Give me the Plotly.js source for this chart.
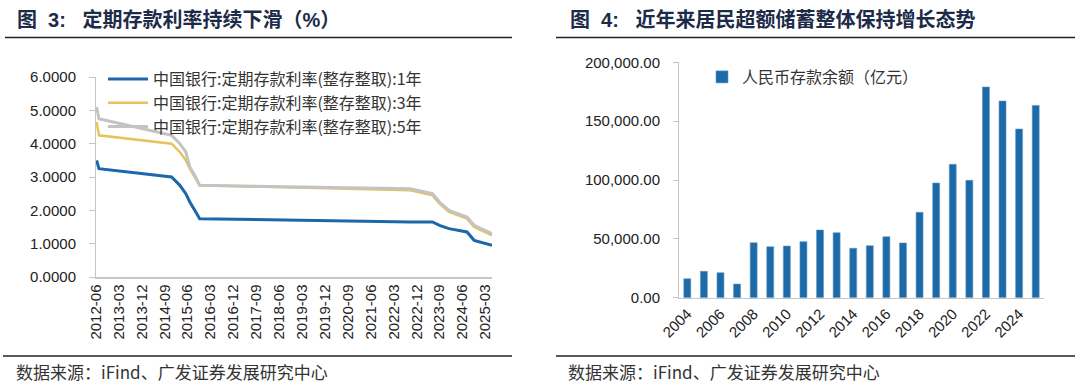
<!DOCTYPE html>
<html><head><meta charset="utf-8">
<script src="https://cdn.plot.ly/plotly-3.0.1.min.js"></script>
<style>html,body{margin:0;padding:0;background:#fff}#chart{width:1080px;height:391px}</style>
</head><body><div id="chart"></div>
<script>
// ---- Left chart data: Bank of China time deposit rates (%) ----
const rateDates = ['2012-06-08','2012-07-06','2014-11-22','2015-03-01','2015-05-11','2015-06-28','2015-08-26','2015-10-24','2022-09-15','2023-06-08','2023-09-01','2023-12-22','2024-07-25','2024-10-18','2025-05-20'];
const rate1Y = [3.50,3.25,3.00,2.75,2.50,2.25,2.00,1.75,1.65,1.65,1.55,1.45,1.35,1.10,0.95];
const rate3Y = [4.65,4.25,4.00,3.75,3.50,3.25,3.00,2.75,2.60,2.45,2.20,1.95,1.75,1.50,1.25];
const rate5Y = [5.10,4.75,4.25,4.00,3.75,3.30,3.05,2.75,2.65,2.50,2.25,2.00,1.80,1.55,1.30];
const seriesNames = ['中国银行:定期存款利率(整存整取):1年','中国银行:定期存款利率(整存整取):3年','中国银行:定期存款利率(整存整取):5年'];
const leftTickVals = ['2012-06-01','2013-03-01','2013-12-01','2014-09-01','2015-06-01','2016-03-01','2016-12-01','2017-09-01','2018-06-01','2019-03-01','2019-12-01','2020-09-01','2021-06-01','2022-03-01','2022-12-01','2023-09-01','2024-06-01','2025-03-01'];
const leftTickText = ['2012-06','2013-03','2013-12','2014-09','2015-06','2016-03','2016-12','2017-09','2018-06','2019-03','2019-12','2020-09','2021-06','2022-03','2022-12','2023-09','2024-06','2025-03'];

// ---- Right chart data: household excess savings (RMB deposits, 100 million yuan) ----
const years = [2004,2005,2006,2007,2008,2009,2010,2011,2012,2013,2014,2015,2016,2017,2018,2019,2020,2021,2022,2023,2024,2025];
const deposits = [16100,22400,21200,11600,46700,43300,43900,47600,57500,55200,42000,44200,51800,46500,72500,97400,113300,99700,179000,167100,143300,163400];
const barName = '人民币存款余额（亿元）';
const rightTickVals = [2004,2006,2008,2010,2012,2014,2016,2018,2020,2022,2024];
const rightTickText = ['2004','2006','2008','2010','2012','2014','2016','2018','2020','2022','2024'];

const NB = '\u00a0';
const titleLeft = '图' + NB + NB + '3:' + NB + NB + NB + '定期存款利率持续下滑（%）';
const titleRight = '图' + NB + NB + '4:' + NB + NB + NB + '近年来居民超额储蓄整体保持增长态势';
const sourceText = '数据来源：iFind、广发证券发展研究中心';

const W = 1080, H = 391;
const px = x => x / W;
const py = y => 1 - y / H;

const lineColors = ['#1B67AA', '#E8C35A', '#C3C3C3'];
const lineWidths = [3, 2.5, 3];
const rateSeries = [rate1Y, rate3Y, rate5Y];

const traces = rateSeries.map((vals, i) => ({
  type: 'scatter', mode: 'lines', x: rateDates, y: vals, name: seriesNames[i],
  line: {color: lineColors[i], width: lineWidths[i]},
  xaxis: 'x', yaxis: 'y', legend: 'legend', hoverinfo: 'skip'
}));
traces.push({
  type: 'bar', x: years, y: deposits, name: barName,
  marker: {color: '#1C6AA8', line: {color: '#5f95c4', width: 0.6}},
  xaxis: 'x2', yaxis: 'y2', legend: 'legend2', hoverinfo: 'skip'
});

const axisGray = '#c6c6c6';
const tickFont = {family: 'Liberation Sans, Arial, sans-serif', size: 15, color: '#222'};
const cjk = 'Noto Sans CJK SC, sans-serif';
const titleFont = {family: 'Liberation Sans, ' + cjk, size: 20, color: '#1d2b48'};

const layout = {
  width: W, height: H,
  margin: {l: 0, r: 0, t: 0, b: 0},
  paper_bgcolor: '#fff', plot_bgcolor: '#fff',
  showlegend: true,
  bargap: 0.58,
  xaxis: {
    domain: [px(96), px(492)], anchor: 'y', type: 'date',
    range: ['2012-06-01', '2025-05-20'],
    tickmode: 'array', tickvals: leftTickVals, ticktext: leftTickText,
    tickangle: -90, tickfont: tickFont,
    showline: true, linecolor: axisGray, linewidth: 1.5,
    showgrid: false, zeroline: false, ticks: '', fixedrange: true
  },
  yaxis: {
    domain: [py(277), py(77)], anchor: 'x', range: [0, 6], dtick: 1,
    tickformat: '.4f', tickfont: tickFont,
    showline: true, linecolor: axisGray, linewidth: 1,
    ticks: 'outside', ticklen: 6, tickcolor: axisGray,
    ticklabelstandoff: 10,
    showgrid: false, zeroline: false, fixedrange: true
  },
  xaxis2: {
    domain: [px(679), px(1044)], anchor: 'y2',
    range: [2003.5, 2025.5],
    tickmode: 'array', tickvals: rightTickVals, ticktext: rightTickText,
    tickangle: -45, tickfont: tickFont,
    showline: true, linecolor: axisGray, linewidth: 1.5,
    showgrid: false, zeroline: false, ticks: '', fixedrange: true
  },
  yaxis2: {
    domain: [py(297.7), py(62.3)], anchor: 'x2', range: [0, 200000], dtick: 50000,
    tickformat: ',.2f', tickfont: tickFont,
    showline: true, linecolor: axisGray, linewidth: 1,
    ticks: 'outside', ticklen: 5, tickcolor: axisGray,
    ticklabelstandoff: 10,
    showgrid: false, zeroline: false, fixedrange: true
  },
  legend: {
    x: px(103), y: py(62), xanchor: 'left', yanchor: 'top',
    font: {family: cjk, size: 16, color: '#333'},
    bgcolor: 'rgba(0,0,0,0)', tracegroupgap: 0, itemwidth: 40,
    traceorder: 'normal'
  },
  legend2: {
    x: px(702), y: py(60), xanchor: 'left', yanchor: 'top',
    font: {family: cjk, size: 16, color: '#333'},
    bgcolor: 'rgba(0,0,0,0)', itemwidth: 30
  },
  annotations: [
    {text: '<b>' + titleLeft + '</b>', xref: 'paper', yref: 'paper', x: px(15), y: py(20),
     xanchor: 'left', yanchor: 'middle', showarrow: false, font: titleFont},
    {text: '<b>' + titleRight + '</b>', xref: 'paper', yref: 'paper', x: px(568), y: py(20),
     xanchor: 'left', yanchor: 'middle', showarrow: false, font: titleFont},
    {text: sourceText, xref: 'paper', yref: 'paper', x: px(14), y: py(371),
     xanchor: 'left', yanchor: 'middle', showarrow: false,
     font: {family: cjk, size: 17, color: '#333'}},
    {text: sourceText, xref: 'paper', yref: 'paper', x: px(566), y: py(371),
     xanchor: 'left', yanchor: 'middle', showarrow: false,
     font: {family: cjk, size: 17, color: '#333'}}
  ],
  shapes: [
    {type: 'line', xref: 'paper', yref: 'paper', x0: px(5), x1: px(512), y0: py(37.5), y1: py(37.5), line: {color: '#222', width: 1.5}},
    {type: 'line', xref: 'paper', yref: 'paper', x0: px(556), x1: px(1075), y0: py(37.5), y1: py(37.5), line: {color: '#222', width: 1.5}},
    {type: 'line', xref: 'paper', yref: 'paper', x0: px(3), x1: px(512), y0: py(356), y1: py(356), line: {color: '#222', width: 1.5}},
    {type: 'line', xref: 'paper', yref: 'paper', x0: px(556), x1: px(1075), y0: py(356), y1: py(356), line: {color: '#222', width: 1.5}}
  ]
};

Plotly.newPlot('chart', traces, layout, {staticPlot: true, displayModeBar: false});
</script>
</body></html>
